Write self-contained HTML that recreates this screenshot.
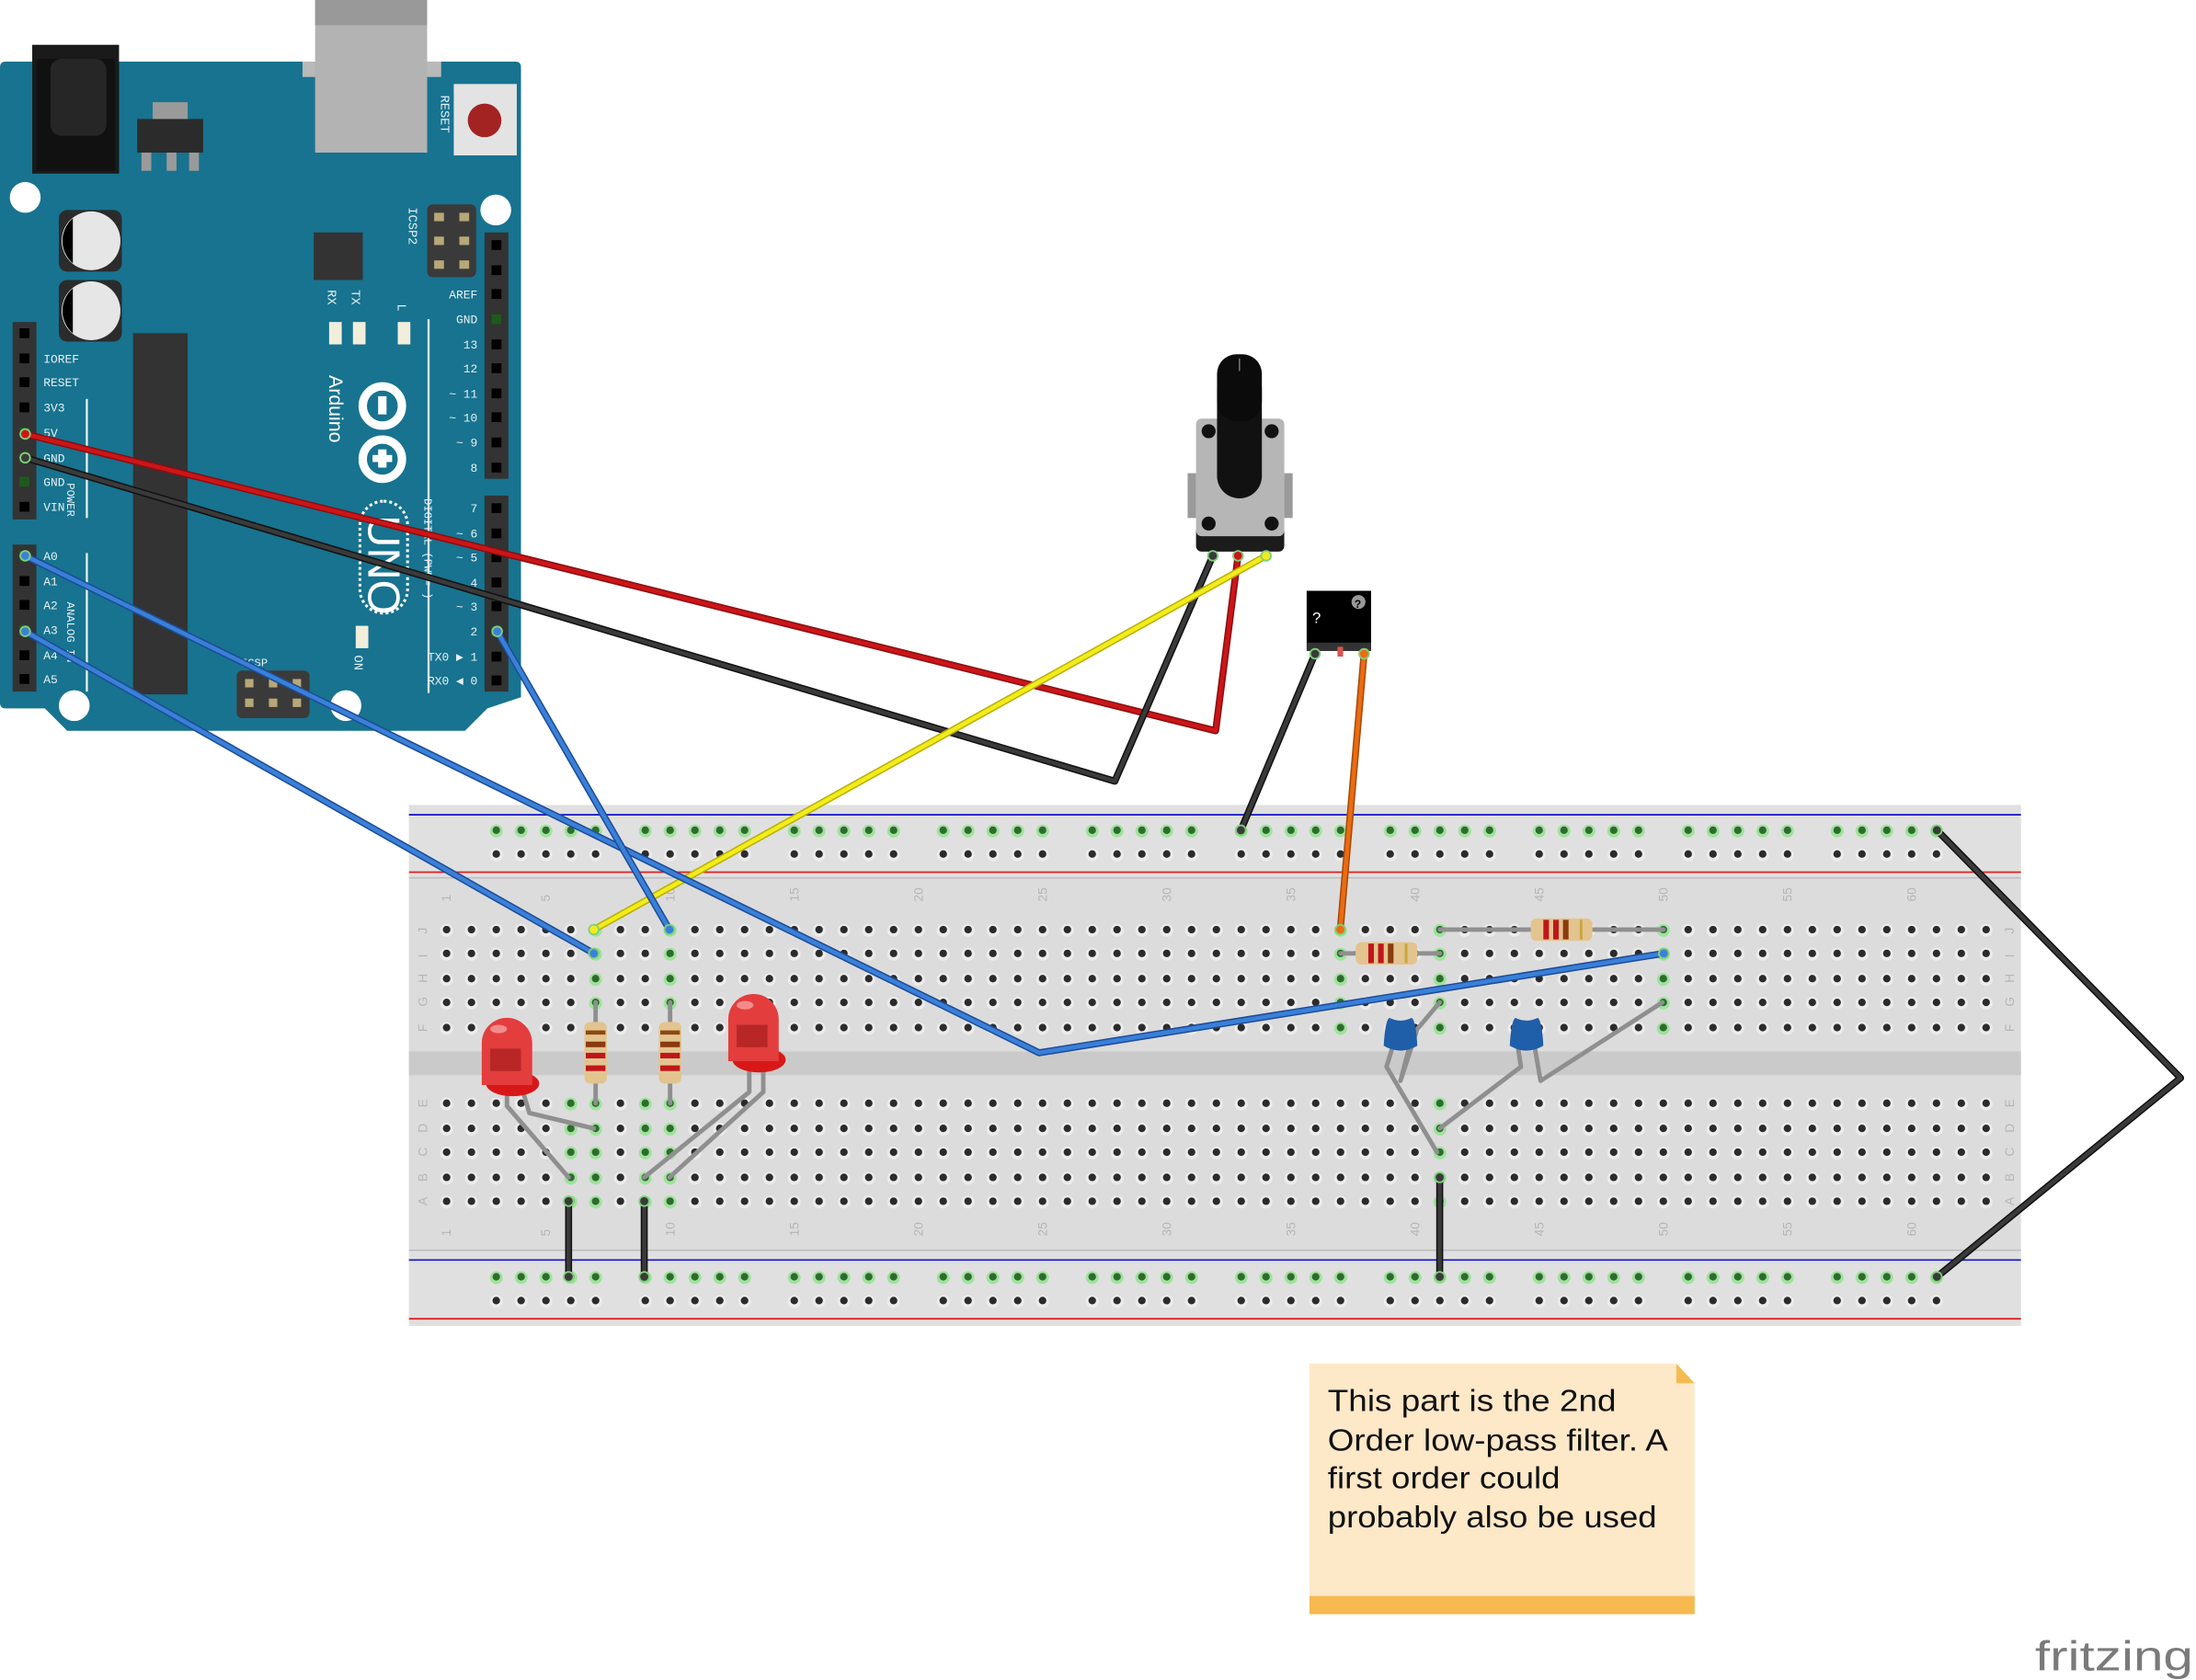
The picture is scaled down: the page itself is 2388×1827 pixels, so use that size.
<!DOCTYPE html>
<html><head><meta charset="utf-8"><title>Fritzing breadboard</title>
<style>
html,body{margin:0;padding:0;background:#fff;}
svg{display:block;}
text{font-family:"Liberation Sans",sans-serif;}
.mono{font-family:"Liberation Mono","DejaVu Sans Mono",monospace;}
</style></head>
<body>
<svg id="scene" width="2388" height="1827" viewBox="0 0 1568 1200" preserveAspectRatio="none" xmlns="http://www.w3.org/2000/svg">
  <g>
    <path d="M4,44 H368 Q372,44 372,48 V498 L348,506 L332,522 H48 L32,506 H4 Q0,506 0,502 V48 Q0,44 4,44 Z" fill="#17738f"/>
    <rect x="216" y="44" width="99" height="11" fill="#b9b9b9"/>
    <rect x="225" y="0" width="80" height="109" fill="#b3b3b3"/>
    <rect x="225" y="0" width="80" height="18" fill="#999"/>
    <rect x="23" y="32" width="62" height="92" fill="#1a1a1a"/>
    <rect x="26" y="42" width="56" height="80" fill="#111"/>
    <rect x="36" y="42" width="40" height="55" rx="8" fill="#262626"/>
    <rect x="109" y="73" width="25" height="13" fill="#9a9a9a"/>
    <rect x="98" y="85" width="47" height="24" fill="#2b2b2b"/>
    <rect x="101" y="109" width="7" height="13" fill="#9a9a9a"/>
    <rect x="119" y="109" width="7" height="13" fill="#9a9a9a"/>
    <rect x="135" y="109" width="7" height="13" fill="#9a9a9a"/>
    <rect x="324" y="60" width="45" height="51" fill="#e3e3e3"/>
    <circle cx="346" cy="86" r="12" fill="#a32323"/>
    <text class="mono" x="0" y="0" font-size="9" fill="#e8f0f3" transform="translate(315,68) rotate(90)">RESET</text>
    <circle cx="18" cy="141" r="11" fill="#fff"/>
    <circle cx="354" cy="150" r="11" fill="#fff"/>
    <circle cx="53" cy="504" r="11" fill="#fff"/>
    <circle cx="247" cy="504" r="11" fill="#fff"/>
    <g>
      <rect x="42" y="150" width="45" height="44" rx="6" fill="#2b2b2b"/>
      <circle cx="65" cy="172" r="21" fill="#e6e6e6"/>
      <path d="M52,156 A21,21 0 0 0 52,188 Z" fill="#000"/>
    </g>
    <g>
      <rect x="42" y="200" width="45" height="44" rx="6" fill="#2b2b2b"/>
      <circle cx="65" cy="222" r="21" fill="#e6e6e6"/>
      <path d="M52,206 A21,21 0 0 0 52,238 Z" fill="#000"/>
    </g>
    <rect x="95" y="238" width="39" height="258" fill="#333"/>
    <rect x="224" y="166" width="35" height="34" fill="#333"/>
    <rect x="305" y="146" width="35" height="52" rx="4" fill="#3a3a3a"/>
    <rect x="310" y="152" width="7" height="6" fill="#b8a878"/><rect x="328" y="152" width="7" height="6" fill="#b8a878"/>
    <rect x="310" y="169" width="7" height="6" fill="#b8a878"/><rect x="328" y="169" width="7" height="6" fill="#b8a878"/>
    <rect x="310" y="186" width="7" height="6" fill="#b8a878"/><rect x="328" y="186" width="7" height="6" fill="#b8a878"/>
    <text class="mono" x="0" y="0" font-size="9" fill="#e8f0f3" transform="translate(292,148) rotate(90)">ICSP2</text>
    <text class="mono" x="0" y="0" font-size="9" fill="#e8f0f3" transform="translate(234,207) rotate(90)">RX</text>
    <text class="mono" x="0" y="0" font-size="9" fill="#e8f0f3" transform="translate(251,207) rotate(90)">TX</text>
    <text class="mono" x="0" y="0" font-size="9" fill="#e8f0f3" transform="translate(284,217) rotate(90)">L</text>
    <rect x="235" y="230" width="9" height="16" fill="#f2eedc"/><rect x="252" y="230" width="9" height="16" fill="#f2eedc"/><rect x="284" y="230" width="9" height="16" fill="#f2eedc"/>
    <rect x="254" y="447" width="9" height="16" fill="#f2eedc"/>
    <text class="mono" x="0" y="0" font-size="9" fill="#e8f0f3" transform="translate(253,468) rotate(90)">ON</text>
    <line x1="306" y1="228" x2="306" y2="495" stroke="#e8f0f3" stroke-width="1.5"/>
    <line x1="62" y1="285" x2="62" y2="370" stroke="#e8f0f3" stroke-width="1.5"/>
    <line x1="62" y1="395" x2="62" y2="494" stroke="#e8f0f3" stroke-width="1.5"/>
    <g fill="none" stroke="#fff" stroke-width="6">
      <circle cx="273" cy="290" r="14"/>
      <circle cx="273" cy="328" r="14"/>
    </g>
    <rect x="270" y="283" width="6" height="13" fill="#fff"/>
    <rect x="266" y="325" width="14" height="5" fill="#fff"/><rect x="270" y="321" width="6" height="13" fill="#fff"/>
    <text x="0" y="0" font-size="14" fill="#fff" transform="translate(235,268) rotate(90)">Arduino</text>
    <rect x="257" y="358" width="34" height="80" rx="17" fill="none" stroke="#fff" stroke-width="2" stroke-dasharray="2 2"/>
    <text x="0" y="0" font-size="32" fill="#fff" transform="translate(263,368) rotate(90)">UNO</text>
    <text class="mono" x="0" y="0" font-size="8" fill="#e8f0f3" transform="translate(303,356) rotate(90)">DIGITAL (PWM=~)</text>
    <text class="mono" x="0" y="0" font-size="8" fill="#e8f0f3" transform="translate(48,345) rotate(90)">POWER</text>
    <text class="mono" x="0" y="0" font-size="8" fill="#e8f0f3" transform="translate(48,430) rotate(90)">ANALOG IN</text>
    <g>
      <rect x="169" y="479" width="52" height="34" rx="4" fill="#3a3a3a"/>
      <rect x="175" y="485" width="6" height="6" fill="#b8a878"/><rect x="192" y="485" width="6" height="6" fill="#b8a878"/><rect x="209" y="485" width="6" height="6" fill="#b8a878"/>
      <rect x="175" y="499" width="6" height="6" fill="#b8a878"/><rect x="192" y="499" width="6" height="6" fill="#b8a878"/><rect x="209" y="499" width="6" height="6" fill="#b8a878"/>
      <text class="mono" x="172" y="476" font-size="8" fill="#e8f0f3">ICSP</text>
    </g>
    <g id="arduinoHeaders"></g>
  </g>

  <g>
    <rect x="292" y="575" width="1151" height="372" fill="#dcdcdc"/>
    <rect x="292" y="575" width="1151" height="52" fill="#e0e0e0"/>
    <line x1="292" y1="627" x2="1443" y2="627" stroke="#bdbdbd" stroke-width="1"/>
    <rect x="292" y="893" width="1151" height="54" fill="#e0e0e0"/>
    <line x1="292" y1="893" x2="1443" y2="893" stroke="#bdbdbd" stroke-width="1"/>
    <rect x="292" y="751" width="1151" height="17" fill="#cbcaca"/>
    <line x1="292" y1="582" x2="1443" y2="582" stroke="#2020c8" stroke-width="1.2"/>
    <line x1="292" y1="623" x2="1443" y2="623" stroke="#e02020" stroke-width="1.2"/>
    <line x1="292" y1="900" x2="1443" y2="900" stroke="#2020c8" stroke-width="1.2"/>
    <line x1="292" y1="942" x2="1443" y2="942" stroke="#e02020" stroke-width="1.2"/>
    <g id="holes"></g>
    <g id="bbLabels"></g>
  </g>

  <g id="parts"></g>

  <g>
    <rect x="848" y="338" width="6" height="32" fill="#9a9a9a"/>
    <rect x="917" y="338" width="6" height="32" fill="#9a9a9a"/>
    <rect x="854" y="375" width="63" height="19" rx="4" fill="#1c1c1c"/>
    <rect x="854" y="299" width="63" height="84" rx="4" fill="#b6b6b6"/>
    <circle cx="863" cy="308" r="5" fill="#111"/><circle cx="908" cy="308" r="5" fill="#111"/>
    <circle cx="863" cy="374" r="5" fill="#111"/><circle cx="908" cy="374" r="5" fill="#111"/>
    <rect x="869" y="262" width="32" height="94" rx="16" fill="#111"/>
    <rect x="869" y="253" width="32" height="48" rx="14" fill="#0b0b0b"/>
    <line x1="885" y1="256" x2="885" y2="265" stroke="#777" stroke-width="1"/>
  </g>

  <g>
    <rect x="933" y="422" width="46" height="41" fill="#000"/>
    <rect x="933" y="459" width="46" height="6" fill="#333"/>
    <rect x="955" y="462" width="4" height="7" fill="#e05050"/>
    <text x="937" y="445" font-size="11" fill="#fff">?</text>
    <circle cx="970" cy="430" r="5" fill="#999"/>
    <text x="967" y="434" font-size="8" font-weight="bold" fill="#000">?</text>
  </g>

  <g id="wires"></g>

  <g>
    <rect x="935" y="974" width="275" height="179" fill="#fde8c8"/>
    <rect x="935" y="1140" width="275" height="13" fill="#f6ba50"/>
    <path d="M1197,974 L1210,988 L1197,988 Z" fill="#f6ba50"/>
    <path d="M1197,974 L1210,974 L1210,988 Z" fill="#fff"/>
    <text font-size="22" fill="#111">
      <tspan x="948" y="1008" textLength="206" lengthAdjust="spacingAndGlyphs">This part is the 2nd</tspan>
      <tspan x="948" y="1036" textLength="243" lengthAdjust="spacingAndGlyphs">Order low-pass filter. A</tspan>
      <tspan x="948" y="1063" textLength="166" lengthAdjust="spacingAndGlyphs">first order could</tspan>
      <tspan x="948" y="1091" textLength="235" lengthAdjust="spacingAndGlyphs">probably also be used</tspan>
    </text>
  </g>
  <text x="1453" y="1193" font-size="30" fill="#7a7a7a" textLength="113" lengthAdjust="spacingAndGlyphs">fritzing</text>
</svg>

<script>
var NS = "http://www.w3.org/2000/svg";
var COLS = 63;
var X0 = 318.9, PITCH = 17.73;
var rowNamesTop = ["J","I","H","G","F"];
var rowYTop = [664, 681, 699, 716, 734];
var rowNamesBot = ["E","D","C","B","A"];
var rowYBot = [788, 806, 823, 841, 858];
var railY = [593, 610, 912, 929];
var greenCols = [[6,"E"],[6,"D"],[6,"C"],[6,"B"],[6,"A"],[7,"J"],[7,"I"],[7,"H"],[7,"G"],[7,"F"],[7,"E"],[7,"D"],[7,"C"],[7,"B"],[7,"A"],
  [9,"E"],[9,"D"],[9,"C"],[9,"B"],[9,"A"],[10,"J"],[10,"I"],[10,"H"],[10,"G"],[10,"F"],[10,"E"],[10,"D"],[10,"C"],[10,"B"],[10,"A"],
  [37,"J"],[37,"I"],[37,"H"],[37,"G"],[37,"F"],[41,"J"],[41,"I"],[41,"H"],[41,"G"],[41,"F"],[41,"E"],[41,"D"],[41,"C"],[41,"B"],[41,"A"],
  [50,"J"],[50,"I"],[50,"H"],[50,"G"],[50,"F"]];

function colX(c){ return X0 + (c-1)*PITCH; }
function mk(tag, attrs, parent){
  var e = document.createElementNS(NS, tag);
  for (var k in attrs) e.setAttribute(k, attrs[k]);
  parent.appendChild(e);
  return e;
}
function isGreen(c, r){
  for (var i=0;i<greenCols.length;i++) if (greenCols[i][0]===c && greenCols[i][1]===r) return true;
  return false;
}
function hole(x, y, green, parent){
  var g = mk("g", {}, parent);
  
  
  mk("circle", {cx:x, cy:y+0.6, r:4.6, fill: green ? "#9fe29c" : "#ececec"}, g);
  mk("circle", {cx:x, cy:y, r:2.7, fill: green ? "#2f6b2f" : "#2b2b2b"}, g);
}
var holesG = document.getElementById("holes");
for (var c=1;c<=COLS;c++){
  for (var i=0;i<5;i++) hole(colX(c), rowYTop[i], isGreen(c,rowNamesTop[i]), holesG);
  for (var j=0;j<5;j++) hole(colX(c), rowYBot[j], isGreen(c,rowNamesBot[j]), holesG);
}
for (var g0=0; g0<10; g0++){
  for (var k=0;k<5;k++){
    var cc = 3 + g0*6 + k;
    hole(colX(cc), railY[0], true, holesG);
    hole(colX(cc), railY[1], false, holesG);
    hole(colX(cc), railY[2], true, holesG);
    hole(colX(cc), railY[3], false, holesG);
  }
}
var lab = document.getElementById("bbLabels");
var numCols = [1,5,10,15,20,25,30,35,40,45,50,55,60];
numCols.forEach(function(n){
  [644, 883].forEach(function(y){
    var t = mk("text", {x:0, y:0, "font-size":9, fill:"#b5b5b5", transform:"translate("+(colX(n)+3)+","+y+") rotate(-90)"}, lab);
    
    
    t.textContent = n;
  });
});
var allRows = rowNamesTop.concat(rowNamesBot), allRowY = rowYTop.concat(rowYBot);
for (var r=0;r<allRows.length;r++){
  [305, 1438].forEach(function(x){
    var t = mk("text", {x:0, y:0, "font-size":9, fill:"#b5b5b5", transform:"translate("+(x)+","+(allRowY[r]+3)+") rotate(-90)"}, lab);
    
    
    t.textContent = allRows[r];
  });
}

var hdr = document.getElementById("arduinoHeaders");
var leftPinsY = [238,256,273,291,309,327,344,362];
var leftPinLabels = ["","IOREF","RESET","3V3","5V","GND","GND","VIN"];
var analogPinsY = [397,415,432,450,468,485];
var analogLabels = ["A0","A1","A2","A3","A4","A5"];
var rightPinsY = [175,193,210,228,246,263,281,298,316,334,363,381,398,416,433,451,469,486];
var rightLabels = ["","","AREF","GND","13","12","~ 11","~ 10","~ 9","8","7","~ 6","~ 5","4","~ 3","2","TX0 ▶ 1","RX0 ◀ 0"];
var hotPins = {"5V":"#d06020","GND":"#2c8a2c","A0":"#2c8a2c","A3":"#2c8a2c","2":"#2c8a2c"};
mk("rect",{x:9,y:230,width:17,height:141,fill:"#333"},hdr);
mk("rect",{x:9,y:389,width:17,height:105,fill:"#333"},hdr);
mk("rect",{x:346,y:166,width:17,height:176,fill:"#333"},hdr);
mk("rect",{x:346,y:354,width:17,height:140,fill:"#333"},hdr);
function pin(x,y,lbl,side){
  var hot = hotPins[lbl];
  var p = mk("rect",{x:x-3.5,y:y-3.5,width:7,height:7,fill: hot ? "#1e5a1e" : "#000"},hdr);
  
  
  if (lbl){
    var t = mk("text",{"class":"mono",x: side==="L" ? 31 : 341, y:y+3, "font-size":8.5, fill:"#e8f0f3", "text-anchor": side==="L" ? "start" : "end"},hdr);
    
    
    t.textContent = lbl;
  }
}
for (var a=0;a<leftPinsY.length;a++) pin(17.5,leftPinsY[a],leftPinLabels[a],"L");
for (var b=0;b<analogPinsY.length;b++) pin(17.5,analogPinsY[b],analogLabels[b],"L");
for (var d=0;d<rightPinsY.length;d++) pin(354.5,rightPinsY[d],rightLabels[d],"R");

var parts = document.getElementById("parts");
function leg(points){
  var pl = mk("polyline",{points:points, fill:"none", stroke:"#8f8f8f", "stroke-width":3.2, "stroke-linejoin":"round", "stroke-linecap":"round"},parts);
  
  
}
function resistorV(x, y1, y2){
  leg(x+","+y1+" "+x+","+y2);
  var g = mk("g",{},parts);
  
  
  var cy = (y1+y2)/2;
  mk("rect",{x:x-8,y:cy-22,width:16,height:44,rx:4,fill:"#e3c48f"},g);
  mk("rect",{x:x-7,y:cy-16,width:14,height:3,fill:"#8a4a10"},g);
  mk("rect",{x:x-7,y:cy-8,width:14,height:4,fill:"#8b3a0e"},g);
  mk("rect",{x:x-7,y:cy+0,width:14,height:4,fill:"#c0161a"},g);
  mk("rect",{x:x-7,y:cy+9,width:14,height:4,fill:"#c0161a"},g);
}
function resistorH(x1, x2, y, cx){
  leg(x1+","+y+" "+x2+","+y);
  var g = mk("g",{},parts);
  
  
  mk("rect",{x:cx-22,y:y-8,width:44,height:16,rx:4,fill:"#e3c48f"},g);
  mk("rect",{x:cx-13,y:y-7,width:4,height:14,fill:"#c0161a"},g);
  mk("rect",{x:cx-6,y:y-7,width:4,height:14,fill:"#c0161a"},g);
  mk("rect",{x:cx+1,y:y-7,width:4,height:14,fill:"#8b3a0e"},g);
  mk("rect",{x:cx+13,y:y-7,width:2,height:14,fill:"#c9a840"},g);
}
function led(cx, top){
  var g = mk("g",{},parts);
  
  
  mk("ellipse",{cx:cx+4,cy:top+47,rx:19,ry:9,fill:"#d81818"},g);
  mk("path",{d:"M"+(cx-18)+","+(top+48)+" V"+(top+18)+" A18,18 0 0 1 "+(cx+18)+","+(top+18)+" V"+(top+48)+" Z",fill:"#e33d3d"},g);
  mk("rect",{x:cx-12,y:top+22,width:22,height:16,fill:"#b82626"},g);
  mk("ellipse",{cx:cx-6,cy:top+8,rx:6,ry:3,fill:"#f48b8b"},g);
}
leg("362,775 362,790 406,841");
leg("372,775 378,795 424,806");
led(362, 727);
leg("535,760 535,780 460,841");
leg("545,760 545,780 478,841");
led(538, 710);
resistorV(colX(7), 716, 788);
resistorV(colX(10), 716, 788);
resistorH(colX(37), colX(41), 681, 990);
resistorH(colX(41), colX(50), 664, 1115);
function cap(cx, y, legA, legB){
  leg(legA); leg(legB);
  var g = mk("g",{},parts);
  
  
  mk("path",{d:"M"+(cx-12)+","+(y+20)+" Q"+(cx-11)+","+(y+2)+" "+(cx-8)+","+(y+0)+" Q"+cx+","+(y+4)+" "+(cx+8)+","+(y+0)+" Q"+(cx+11)+","+(y+2)+" "+(cx+12)+","+(y+20)+" Q"+cx+","+(y+27)+" "+(cx-12)+","+(y+20)+" Z",fill:"#1f5ea8"},g);
}
cap(1000, 727, "994,749 990,762 1026,823", "1006,749 1000,772 1012,735 1028,716");
cap(1090, 727, "1084,749 1086,762 1028,806", "1096,749 1100,772 1187,716");

var wireColors = ["red","black","yellow","blue","blue","blue","black","orange","black","black","black","black"];
var wirePaths = [
  [[18,310],[868,522],[884,397]],
  [[18,327],[796,558],[866,397]],
  [[424,664],[904,397]],
  [[18,451],[424,681]],
  [[18,397],[742,752],[1188,681]],
  [[355,451],[478,664]],
  [[886,593],[939,467]],
  [[957,664],[974,467]],
  [[1383,593],[1557,770],[1383,912]],
  [[406,858],[406,912]],
  [[460,858],[460,912]],
  [[1028,841],[1028,912]]
];
var fills = {red:["#8a0e10","#cc1518"], black:["#111","#3a3a3a"], yellow:["#b8b000","#f2ec1c"], blue:["#1d4c98","#3a80d8"], orange:["#a84808","#ea6c10"]};
var wg = document.getElementById("wires");
wirePaths.forEach(function(pts, i){
  var s = pts.map(function(p){return p[0]+","+p[1];}).join(" ");
  var col = fills[wireColors[i]];
  var g = mk("g",{},wg);
  
  
  mk("polyline",{points:s,fill:"none",stroke:col[0],"stroke-width":5,"stroke-linejoin":"round","stroke-linecap":"round"},g);
  mk("polyline",{points:s,fill:"none",stroke:col[1],"stroke-width":3,"stroke-linejoin":"round","stroke-linecap":"round"},g);
  [pts[0], pts[pts.length-1]].forEach(function(p){
    mk("circle",{cx:p[0],cy:p[1],r:3.5,fill:col[1],stroke:"#7fd07a","stroke-width":1.2},g);
  });
});
</script>
</body></html>
